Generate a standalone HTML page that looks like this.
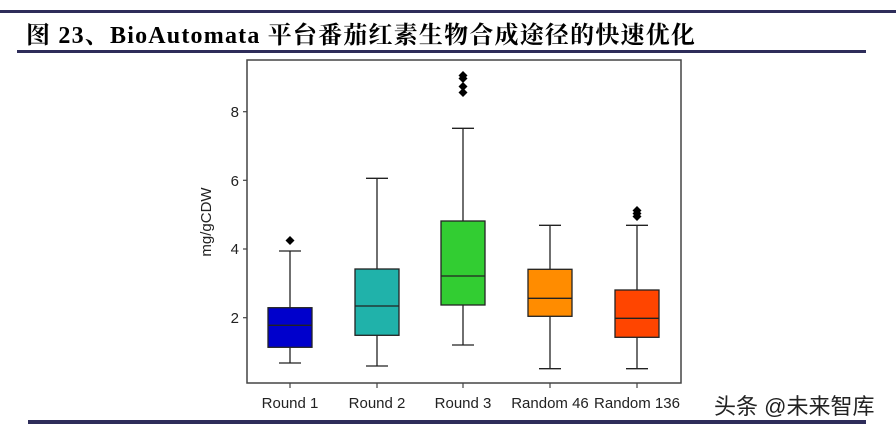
<!DOCTYPE html>
<html><head><meta charset="utf-8"><style>
body{margin:0;background:#fff;width:896px;height:427px;overflow:hidden;position:relative;font-family:"Liberation Sans","Noto Sans CJK SC",sans-serif}
.l{position:absolute;background:#2e2d5a}
.t{position:absolute;left:26px;top:15px;font:bold 24px "Liberation Serif","Noto Serif CJK SC",serif;color:#000;white-space:nowrap;letter-spacing:1.2px}
.w{position:absolute;left:714px;top:389px;font-size:22px;color:#222;white-space:nowrap}
</style></head><body>
<div class="l" style="left:0;top:10px;width:896px;height:3px"></div>
<div class="t">图 23、BioAutomata 平台番茄红素生物合成途径的快速优化</div>
<div class="l" style="left:17px;top:50px;width:849px;height:3px"></div>
<div class="l" style="left:28px;top:420px;width:838px;height:4px"></div>
<div class="w">头条 @未来智库</div>
<svg width="896" height="427" style="position:absolute;left:0;top:0" font-family="Liberation Sans, sans-serif">
<rect x="247" y="60" width="434" height="323" fill="none" stroke="#444" stroke-width="1.5"/>
<g stroke="#444" stroke-width="1.2">
<line x1="243" x2="247" y1="111.7" y2="111.7"/><line x1="243" x2="247" y1="180.3" y2="180.3"/>
<line x1="243" x2="247" y1="249" y2="249"/><line x1="243" x2="247" y1="317.7" y2="317.7"/>
<line x1="290" x2="290" y1="383" y2="388"/><line x1="377" x2="377" y1="383" y2="388"/>
<line x1="463" x2="463" y1="383" y2="388"/><line x1="550" x2="550" y1="383" y2="388"/><line x1="637" x2="637" y1="383" y2="388"/>
</g>
<g font-size="15" fill="#222" text-anchor="end">
<text x="239" y="117">8</text><text x="239" y="186">6</text><text x="239" y="254">4</text><text x="239" y="323">2</text>
</g>
<text transform="translate(211,222) rotate(-90)" font-size="15" fill="#222" text-anchor="middle">mg/gCDW</text>
<g font-size="15" fill="#222" text-anchor="middle">
<text x="290" y="408">Round 1</text><text x="377" y="408">Round 2</text><text x="463" y="408">Round 3</text>
<text x="550" y="408">Random 46</text><text x="637" y="408">Random 136</text>
</g>
<g stroke="#222" stroke-width="1.3">
<line x1="290" x2="290" y1="251" y2="363"/><line x1="279" x2="301" y1="251" y2="251"/><line x1="279" x2="301" y1="363" y2="363"/>
<rect x="268" y="307.7" width="44" height="39.6" fill="#0000cc"/><line x1="268" x2="312" y1="325.3" y2="325.3"/>
<line x1="377" x2="377" y1="178.3" y2="366"/><line x1="366" x2="388" y1="178.3" y2="178.3"/><line x1="366" x2="388" y1="366" y2="366"/>
<rect x="355" y="269" width="44" height="66.3" fill="#20b2aa"/><line x1="355" x2="399" y1="306" y2="306"/>
<line x1="463" x2="463" y1="128.3" y2="345"/><line x1="452" x2="474" y1="128.3" y2="128.3"/><line x1="452" x2="474" y1="345" y2="345"/>
<rect x="441" y="221" width="44" height="84" fill="#32cd32"/><line x1="441" x2="485" y1="276" y2="276"/>
<line x1="550" x2="550" y1="225.3" y2="368.7"/><line x1="539" x2="561" y1="225.3" y2="225.3"/><line x1="539" x2="561" y1="368.7" y2="368.7"/>
<rect x="528" y="269.3" width="44" height="47" fill="#ff8c00"/><line x1="528" x2="572" y1="298.3" y2="298.3"/>
<line x1="637" x2="637" y1="225.3" y2="368.7"/><line x1="626" x2="648" y1="225.3" y2="225.3"/><line x1="626" x2="648" y1="368.7" y2="368.7"/>
<rect x="615" y="290" width="44" height="47.3" fill="#ff4500"/><line x1="615" x2="659" y1="318.3" y2="318.3"/>
</g>
<g fill="#000">
<path d="M290 236l4.5 4.5-4.5 4.5-4.5-4.5z"/>
<path d="M463 71l4.5 4.5-4.5 4.5-4.5-4.5z"/><path d="M463 74l4.5 4.5-4.5 4.5-4.5-4.5z"/>
<path d="M463 82l4.5 4.5-4.5 4.5-4.5-4.5z"/><path d="M463 88l4.5 4.5-4.5 4.5-4.5-4.5z"/>
<path d="M637 206l4.5 4.5-4.5 4.5-4.5-4.5z"/><path d="M637 209l4.5 4.5-4.5 4.5-4.5-4.5z"/><path d="M637 212l4.5 4.5-4.5 4.5-4.5-4.5z"/>
</g>
</svg>
</body></html>
